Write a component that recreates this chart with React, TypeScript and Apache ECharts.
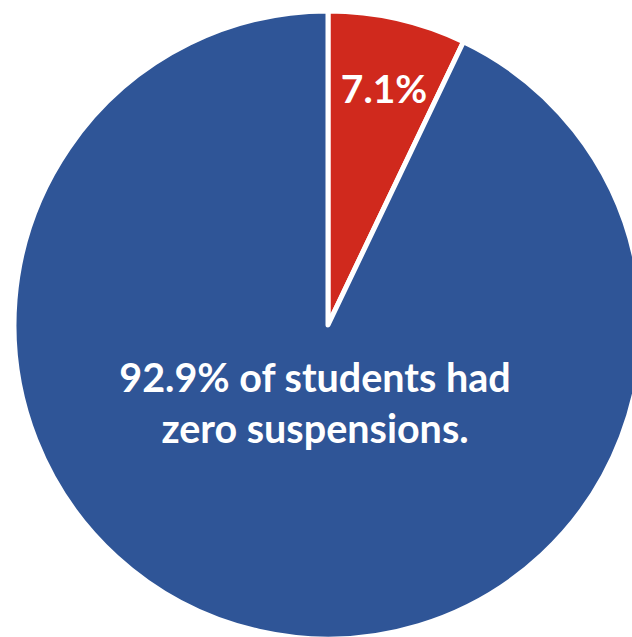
import React, { useEffect, useRef } from "react";
import * as echarts from "echarts";

const categories = ["Had suspensions", "Zero suspensions"];
const values = [7.1, 92.9];
const colors = ["#D0291D", "#2F5597"];

export default function App() {
  const ref = useRef<HTMLDivElement>(null);
  useEffect(() => {
    document.body.style.margin = "0";
    const chart = echarts.init(ref.current!, null, { renderer: "svg" });
    chart.setOption({
      animation: false,
      backgroundColor: "#ffffff",
      series: [
        {
          type: "pie",
          center: [328, 325],
          radius: [0, 314],
          startAngle: 90,
          clockwise: true,
          label: { show: false },
          labelLine: { show: false },
          itemStyle: { borderColor: "#ffffff", borderWidth: 5 },
          data: categories.map((c, i) => ({
            name: c,
            value: values[i],
            itemStyle: { color: colors[i] },
          })),
        },
      ],
      graphic: {
        elements: [
          {
            type: "text",
            z: 100,
            x: 384,
            y: 88,
            style: {
              text: `${values[0].toFixed(1)}%`,
              fill: "#ffffff",
              font: "bold 39px Lato",
              align: "center",
              verticalAlign: "middle",
            },
          },
          {
            type: "text",
            z: 100,
            x: 315,
            y: 402,
            style: {
              text: `${values[1].toFixed(1)}% of students had\nzero suspensions.`,
              fill: "#ffffff",
              font: "bold 39.5px Lato",
              lineHeight: 51,
              align: "center",
              verticalAlign: "middle",
            },
          },
        ],
      },
    });
    return () => chart.dispose();
  }, []);
  return (
    <div
      ref={ref}
      style={{ position: "absolute", left: 0, top: 0, width: 632, height: 637 }}
    />
  );
}
